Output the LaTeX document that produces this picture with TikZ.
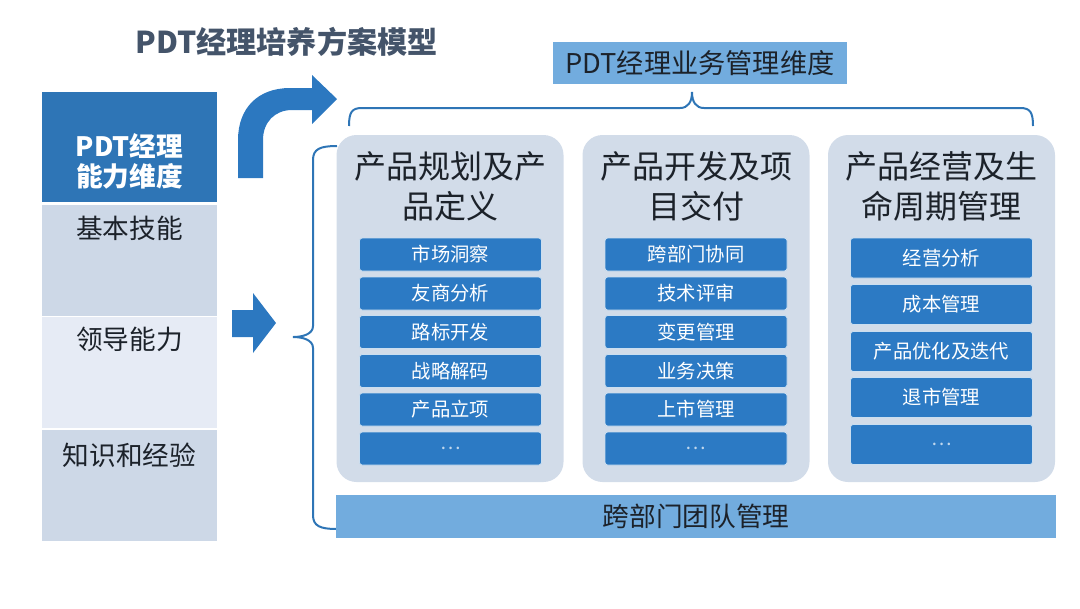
\documentclass[tikz,border=0pt]{standalone}
\usepackage{fontspec}
\setmainfont{Noto Sans CJK SC}

\definecolor{darkblue}{RGB}{46,117,182}
\definecolor{itemblue}{RGB}{44,122,196}
\definecolor{arrowblue}{RGB}{44,120,192}
\definecolor{midblue}{RGB}{114,172,222}
\definecolor{cellgray}{RGB}{205,216,231}
\definecolor{celllight}{RGB}{230,235,245}
\definecolor{colgray}{RGB}{210,220,233}
\definecolor{titlegray}{RGB}{68,84,106}
\definecolor{inkdark}{RGB}{28,34,42}

\begin{document}
\begin{tikzpicture}[x=0.75pt, y=-0.75pt,
  cell/.style={minimum width=131.25pt, minimum height=83pt, inner sep=0pt},
  celltext/.style={text=inkdark, font=\fontsize{20}{24}\selectfont},
  group/.style={fill=colgray, rounded corners=15pt, minimum width=170.25pt, minimum height=260.25pt},
  grouptitle/.style={align=center, text=inkdark, font=\fontsize{24}{30}\selectfont},
  item/.style={fill=itemblue, draw=white!75!itemblue, line width=0.6pt, rounded corners=2pt,
    minimum width=136.5pt, minimum height=24.75pt, inner sep=0pt, text=white,
    font=\fontsize{14.5}{17}\selectfont},
  tallitem/.style={item, minimum height=30pt},
  brace/.style={draw=darkblue, line width=1.5pt}]
  \useasboundingbox (0,0) rectangle (1080,608);

  % Title
  \node[text=titlegray, font=\bfseries\fontsize{22.6}{27}\selectfont] (title) at (286.5,42) {PDT经理培养方案模型};

  % Left column: ability dimensions
  \node[cell, fill=darkblue, minimum height=82.5pt] (cap) at (129.5,147) {};
  \node[align=center, text=white, font=\bfseries\fontsize{20}{22.5}\selectfont] (captext) at (129.5,161) {PDT经理\\能力维度};
  \node[cell, fill=cellgray] (skill) at (129.5,260.5) {};
  \node[cell, fill=celllight] (lead) at (129.5,372.5) {};
  \node[cell, fill=cellgray] (know) at (129.5,485.5) {};
  \node[celltext] (skilltext) at (129.5,228) {基本技能};
  \node[celltext] (leadtext) at (129.5,339) {领导能力};
  \node[celltext] (knowtext) at (129.5,455) {知识和经验};

  % Arrows
  \fill[arrowblue] (238,178) -- (238,140) .. controls (238,108) and (258,88) .. (290,88)
    -- (312,88) -- (312,75) -- (337,99) -- (312,124) -- (312,110) -- (292,110)
    .. controls (275,110) and (263,122) .. (263,140) -- (263,178) -- cycle;
  \fill[arrowblue] (232,310) -- (253,310) -- (253,293) -- (276,323) -- (253,353)
    -- (253,337) -- (232,337) -- cycle;

  % Business dimensions
  \node[fill=midblue, text=inkdark, minimum width=220.5pt, minimum height=31.5pt,
    font=\fontsize{20.4}{24}\selectfont] (bizdim) at (700,63) {PDT经理业务管理维度};

  % Braces
  \draw[brace] (349,126) .. controls (349,112) and (352,108) .. (362,108) -- (680,108)
    .. controls (688,108) and (692,102) .. (692,92) .. controls (692,102) and (696,108) .. (704,108)
    -- (1020,108) .. controls (1030,108) and (1033,112) .. (1033,126);
  \draw[brace] (337,146) .. controls (320,146) and (313,149) .. (313,160) -- (313,326)
    .. controls (313,334) and (303,337) .. (293,337) .. controls (303,337) and (313,340) .. (313,348)
    -- (313,515) .. controls (313,526) and (320,529) .. (337,529);

  % Planning and definition
  \node[group] (plan) at (450,308.5) {};
  \node[grouptitle] (plantitle) at (450,186) {产品规划及产\\品定义};
  \node[item] (p1) at (450.5,254.5) {市场洞察};
  \node[item] (p2) at (450.5,293.5) {友商分析};
  \node[item] (p3) at (450.5,332) {路标开发};
  \node[item] (p4) at (450.5,371) {战略解码};
  \node[item] (p5) at (450.5,409.5) {产品立项};
  \node[item, text=white!70!itemblue] (p6) at (450.5,448.5) {…};

  % Development and delivery
  \node[group] (dev) at (696,308.5) {};
  \node[grouptitle] (devtitle) at (696,186) {产品开发及项\\目交付};
  \node[item] (d1) at (696,254.5) {跨部门协同};
  \node[item] (d2) at (696,293.5) {技术评审};
  \node[item] (d3) at (696,332) {变更管理};
  \node[item] (d4) at (696,371) {业务决策};
  \node[item] (d5) at (696,409.5) {上市管理};
  \node[item, text=white!70!itemblue] (d6) at (696,448.5) {…};

  % Operation and life cycle
  \node[group] (ops) at (941.5,308.5) {};
  \node[grouptitle] (opstitle) at (941.5,186) {产品经营及生\\命周期管理};
  \node[tallitem] (o1) at (941.5,258) {经营分析};
  \node[tallitem] (o2) at (941.5,304.5) {成本管理};
  \node[tallitem] (o3) at (941.5,351.5) {产品优化及迭代};
  \node[tallitem] (o4) at (941.5,397.5) {退市管理};
  \node[tallitem, text=white!70!itemblue] (o5) at (941.5,444.5) {…};

  % Team management
  \node[fill=midblue, text=inkdark, minimum width=540pt, minimum height=32.25pt,
    font=\fontsize{20}{24}\selectfont] (team) at (696,516.5) {跨部门团队管理};
\end{tikzpicture}
\end{document}
